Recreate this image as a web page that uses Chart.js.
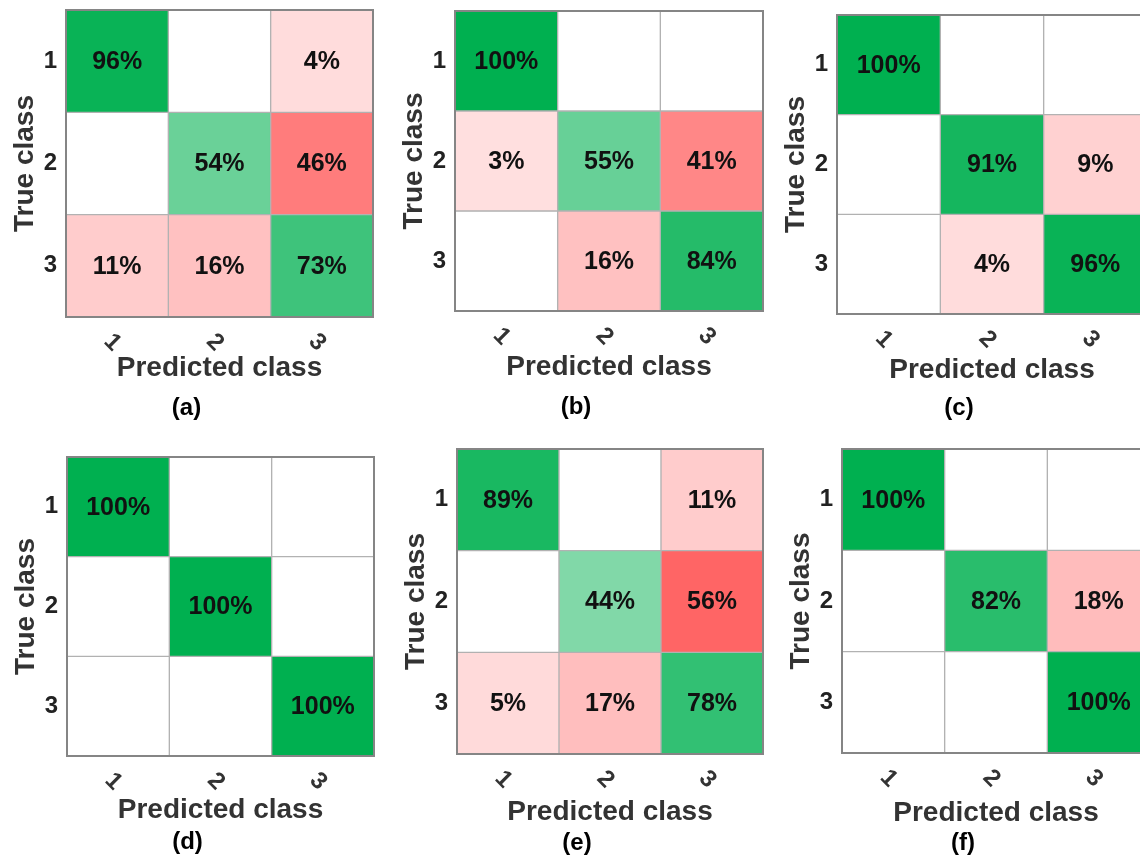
<!DOCTYPE html>
<html>
<head>
<meta charset="utf-8">
<script src="https://cdn.jsdelivr.net/npm/chart.js@4.4.1/dist/chart.umd.min.js"></script>
<style>
  html, body { margin: 0; padding: 0; background: #fff; }
  body { width: 1140px; height: 859px; overflow: hidden; position: relative; }
  .panel { position: absolute; }
</style>
</head>
<body>
<div id="wrap"></div>
<script>
// confusion matrices — rows = true class, cols = predicted class (percent)
const classes = ["1", "2", "3"];
const classValues = [1, 2, 3];
const matA = [[96, 0, 4], [0, 54, 46], [11, 16, 73]];
const matB = [[100, 0, 0], [3, 55, 41], [0, 16, 84]];
const matC = [[100, 0, 0], [0, 91, 9], [0, 4, 96]];
const matD = [[100, 0, 0], [0, 100, 0], [0, 0, 100]];
const matE = [[89, 0, 11], [0, 44, 56], [5, 17, 78]];
const matF = [[100, 0, 0], [0, 82, 18], [0, 0, 100]];
const captions = ["(a)", "(b)", "(c)", "(d)", "(e)", "(f)"];

// ── layout of each panel on the page (plot box + label gaps) ─────────────
const PANELS = [
  { mat: matA, left: 66,  top: 10,  right: 373,  bottom: 317, titleGap: 51, capGap: 91, capX: 212 },
  { mat: matB, left: 455, top: 11,  right: 763,  bottom: 311, titleGap: 56, capGap: 96, capX: 602 },
  { mat: matC, left: 837, top: 15,  right: 1147, bottom: 314, titleGap: 56, capGap: 94, capX: 990 },
  { mat: matD, left: 67,  top: 457, right: 374,  bottom: 756, titleGap: 54, capGap: 86, capX: 212 },
  { mat: matE, left: 457, top: 449, right: 763,  bottom: 754, titleGap: 58, capGap: 89, capX: 602 },
  { mat: matF, left: 842, top: 449, right: 1150, bottom: 753, titleGap: 60, capGap: 90, capX: 987 },
];

const Y_AXIS_W = 66;
const PAD_TOP = 30;
const FONT = "'Liberation Sans', Arial, Helvetica, sans-serif";

Chart.defaults.font.family = FONT;

const DIAG_RGB = [0, 176, 80];
const OFF_RGB  = [255, 0, 0];

function _cellColor(v, diag) {
  if (!v) return "#ffffff";
  const t = 0.1 + 0.9 * v / 100;
  const base = diag ? DIAG_RGB : OFF_RGB;
  const mix = base.map(c => Math.round(255 + (c - 255) * t));
  return `rgb(${mix[0]},${mix[1]},${mix[2]})`;
}

// outer frame round the plot area
const framePlugin = {
  id: "frame",
  afterDatasetsDraw(chart) {
    const { ctx, chartArea: a } = chart;
    ctx.save();
    ctx.strokeStyle = "#858585";
    ctx.lineWidth = 2;
    ctx.strokeRect(a.left, a.top, a.right - a.left, a.bottom - a.top);
    ctx.restore();
  },
};

// percentage text in each non-empty cell
const cellTextPlugin = {
  id: "cellText",
  afterDraw(chart) {
    const { ctx } = chart;
    ctx.save();
    ctx.font = `bold 25px ${FONT}`;
    ctx.fillStyle = "#111";
    ctx.textAlign = "center";
    ctx.textBaseline = "middle";
    chart.data.datasets.forEach((ds, r) => {
      chart.getDatasetMeta(r).data.forEach((bar, c) => {
        const v = ds.values[c];
        if (!v) return;
        const { x, y, base } = bar.getProps(["x", "y", "base"], true);
        ctx.fillText(`${v}%`, x, (y + base) / 2 + 1);
      });
    });
    ctx.restore();
  },
};

function buildPanel(p, idx) {
  const chartW = p.right - p.left;
  const chartH = p.bottom - p.top;
  const xAxisH = p.titleGap + 16.8;
  const capPadTop = Math.max(p.capGap - xAxisH - 12, 0);
  const canvasLeft = p.left - Y_AXIS_W;
  const canvasTop = p.top - PAD_TOP;
  const W = 2 * (p.capX - canvasLeft);
  const padRight = W - Y_AXIS_W - chartW;
  const H = PAD_TOP + chartH + xAxisH + 24 + capPadTop + 6;

  const div = document.createElement("div");
  div.className = "panel";
  div.style.left = canvasLeft + "px";
  div.style.top = canvasTop + "px";
  div.style.width = W + "px";
  div.style.height = H + "px";
  const cv = document.createElement("canvas");
  div.appendChild(cv);
  document.getElementById("wrap").appendChild(div);

  const datasets = p.mat.map((row, r) => ({
    data: classes.map(() => [classValues[r] - 0.5, classValues[r] + 0.5]),
    values: row,
    backgroundColor: row.map((v, c) => _cellColor(v, r === c)),
    borderColor: "#b2b2b2",
    borderWidth: 1,
    borderSkipped: false,
    grouped: false,
    barPercentage: 1,
    categoryPercentage: 1,
  }));

  new Chart(cv.getContext("2d"), {
    type: "bar",
    data: { labels: classes, datasets },
    options: {
      responsive: true,
      maintainAspectRatio: false,
      animation: false,
      layout: { padding: { top: PAD_TOP, right: padRight, bottom: 0, left: 0 } },
      plugins: {
        legend: { display: false },
        tooltip: { enabled: false },
        title: {
          display: true,
          position: "bottom",
          text: captions[idx],
          color: "#000",
          font: { size: 24, weight: "bold", lineHeight: 1 },
          padding: { top: capPadTop, bottom: 6 },
        },
      },
      scales: {
        x: {
          type: "category",
          grid: { display: false, drawTicks: false },
          border: { display: false },
          ticks: {
            color: "#333",
            font: { size: 24, weight: "bold" },
            minRotation: -45,
            maxRotation: -45,
            autoSkip: false,
            padding: 20,
          },
          title: {
            display: true,
            text: "Predicted class",
            color: "#333",
            font: { size: 28, weight: "bold" },
            padding: { top: 0, bottom: 0 },
          },
          afterFit: s => { s.height = xAxisH; },
        },
        y: {
          type: "linear",
          min: 0.5,
          max: 3.5,
          reverse: true,
          grid: { display: false, drawTicks: false },
          border: { display: false },
          afterBuildTicks: s => { s.ticks = classValues.map(v => ({ value: v })); },
          ticks: {
            color: "#222",
            font: { size: 24, weight: "bold" },
            padding: 9,
            callback: v => String(v),
          },
          title: {
            display: true,
            text: "True class",
            color: "#333",
            font: { size: 28, weight: "bold" },
            padding: { top: 8, bottom: 0 },
          },
          afterFit: s => { s.width = Y_AXIS_W; },
        },
      },
    },
    plugins: [framePlugin, cellTextPlugin],
  });
}

PANELS.forEach(buildPanel);
</script>
</body>
</html>
